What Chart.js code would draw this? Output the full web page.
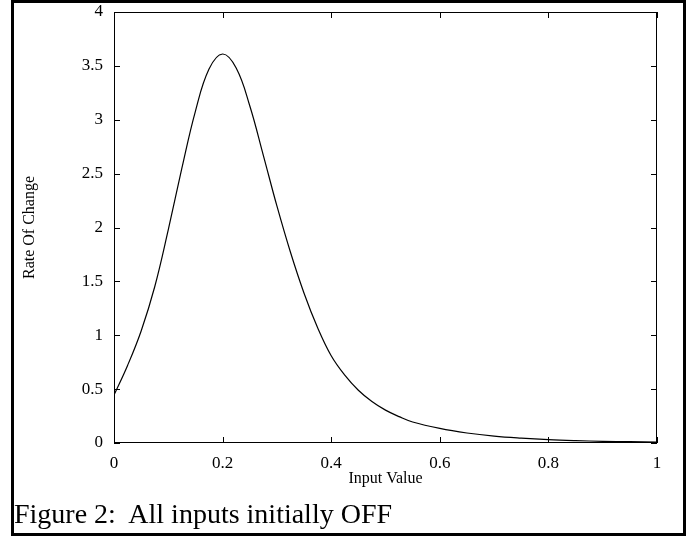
<!DOCTYPE html>
<html>
<head>
<meta charset="utf-8">
<script src="https://cdn.jsdelivr.net/npm/chart.js@4"></script>
<style>
  body { margin: 0; background: #fff; }
  #wrap { position: relative; width: 695px; height: 539px; }
  #frame { position: absolute; left: 11px; top: 0; width: 675px; height: 536px; border: 3px solid #000; box-sizing: border-box; pointer-events: none; }
  #caption { position: absolute; left: 14px; top: 498px; font-family: "Liberation Serif", serif; font-size: 28px; white-space: pre; color: #000; }
</style>
</head>
<body>
<div id="wrap">
  <canvas id="myChart" width="695" height="539"></canvas>
  <div id="frame"></div>
  <div id="caption">Figure 2:  All inputs initially OFF</div>
</div>
<script>
const inputValues = [0, 0.025, 0.05, 0.075, 0.1, 0.125, 0.15, 0.175, 0.2, 0.225, 0.25, 0.275, 0.3, 0.325, 0.35, 0.375, 0.4, 0.425, 0.45, 0.475, 0.5, 0.525, 0.55, 0.6, 0.65, 0.7, 0.75, 0.8, 0.85, 0.9, 0.95, 1];
const rateOfChange = [0.445, 0.72, 1.04, 1.45, 1.98, 2.55, 3.08, 3.47, 3.61, 3.48, 3.13, 2.67, 2.2, 1.77, 1.39, 1.07, 0.81, 0.63, 0.49, 0.385, 0.305, 0.245, 0.195, 0.135, 0.093, 0.064, 0.045, 0.031, 0.022, 0.016, 0.012, 0.009];
const xTicks = [0, 0.2, 0.4, 0.6, 0.8, 1];
const yTicks = [0, 0.5, 1, 1.5, 2, 2.5, 3, 3.5, 4];

const serif = "'Liberation Serif', 'Times New Roman', serif";

// gnuplot style: box round the plot, ticks pointing inwards on all four sides
const inwardTicks = {
    id: 'inwardTicks',
    afterDraw(chart) {
        const c = chart.ctx;
        const a = chart.chartArea;
        const x = chart.scales.x, y = chart.scales.y;
        c.save();
        c.strokeStyle = '#000';
        c.lineWidth = 1;
        c.strokeRect(a.left + 0.5, a.top + 0.5, a.right - a.left - 1, a.bottom - a.top - 1);
        c.beginPath();
        xTicks.forEach(v => {
            const px = Math.round(x.getPixelForValue(v)) + 0.5;
            c.moveTo(px, a.bottom); c.lineTo(px, a.bottom - 6);
            c.moveTo(px, a.top); c.lineTo(px, a.top + 6);
        });
        yTicks.forEach(v => {
            const py = Math.round(y.getPixelForValue(v)) + 0.5;
            c.moveTo(a.left, py); c.lineTo(a.left + 6, py);
            c.moveTo(a.right, py); c.lineTo(a.right - 6, py);
        });
        c.stroke();
        c.restore();
    }
};

const ctx = document.getElementById('myChart').getContext('2d');

new Chart(ctx, {
    type: 'line',
    data: {
        datasets: [{
            data: inputValues.map((v, i) => ({ x: v, y: rateOfChange[i] })),
            borderColor: '#000',
            borderWidth: 1.2,
            pointRadius: 0,
            fill: false,
            tension: 0.4
        }]
    },
    options: {
        responsive: false,
        animation: false,
        layout: { padding: { left: 20, top: 12, right: 38, bottom: 0 } },
        plugins: {
            legend: { display: false },
            tooltip: { enabled: false }
        },
        scales: {
            x: {
                type: 'linear',
                min: 0,
                max: 1,
                afterFit: s => { s.height = 96; s.paddingLeft = 0; s.paddingRight = 0; },
                afterBuildTicks: s => { s.ticks = xTicks.map(v => ({ value: v })); },
                grid: { display: false, drawTicks: false },
                border: { display: false },
                ticks: { color: '#000', padding: 10, maxRotation: 0, font: { family: serif, size: 17 }, callback: v => String(v) },
                title: { display: true, text: 'Input Value', color: '#000', padding: { top: 0, bottom: 51 }, font: { family: serif, size: 16 } }
            },
            y: {
                min: 0,
                max: 4,
                afterFit: s => { s.width = 94; s.paddingTop = 0; s.paddingBottom = 0; },
                afterBuildTicks: s => { s.ticks = yTicks.map(v => ({ value: v })); },
                grid: { display: false, drawTicks: false },
                border: { display: false },
                ticks: { color: '#000', padding: 11, font: { family: serif, size: 17 }, callback: v => String(v) },
                title: { display: true, text: 'Rate Of Change', color: '#000', padding: { top: 0, bottom: 0 }, font: { family: serif, size: 16 } }
            }
        }
    },
    plugins: [inwardTicks]
});
</script>
</body>
</html>
